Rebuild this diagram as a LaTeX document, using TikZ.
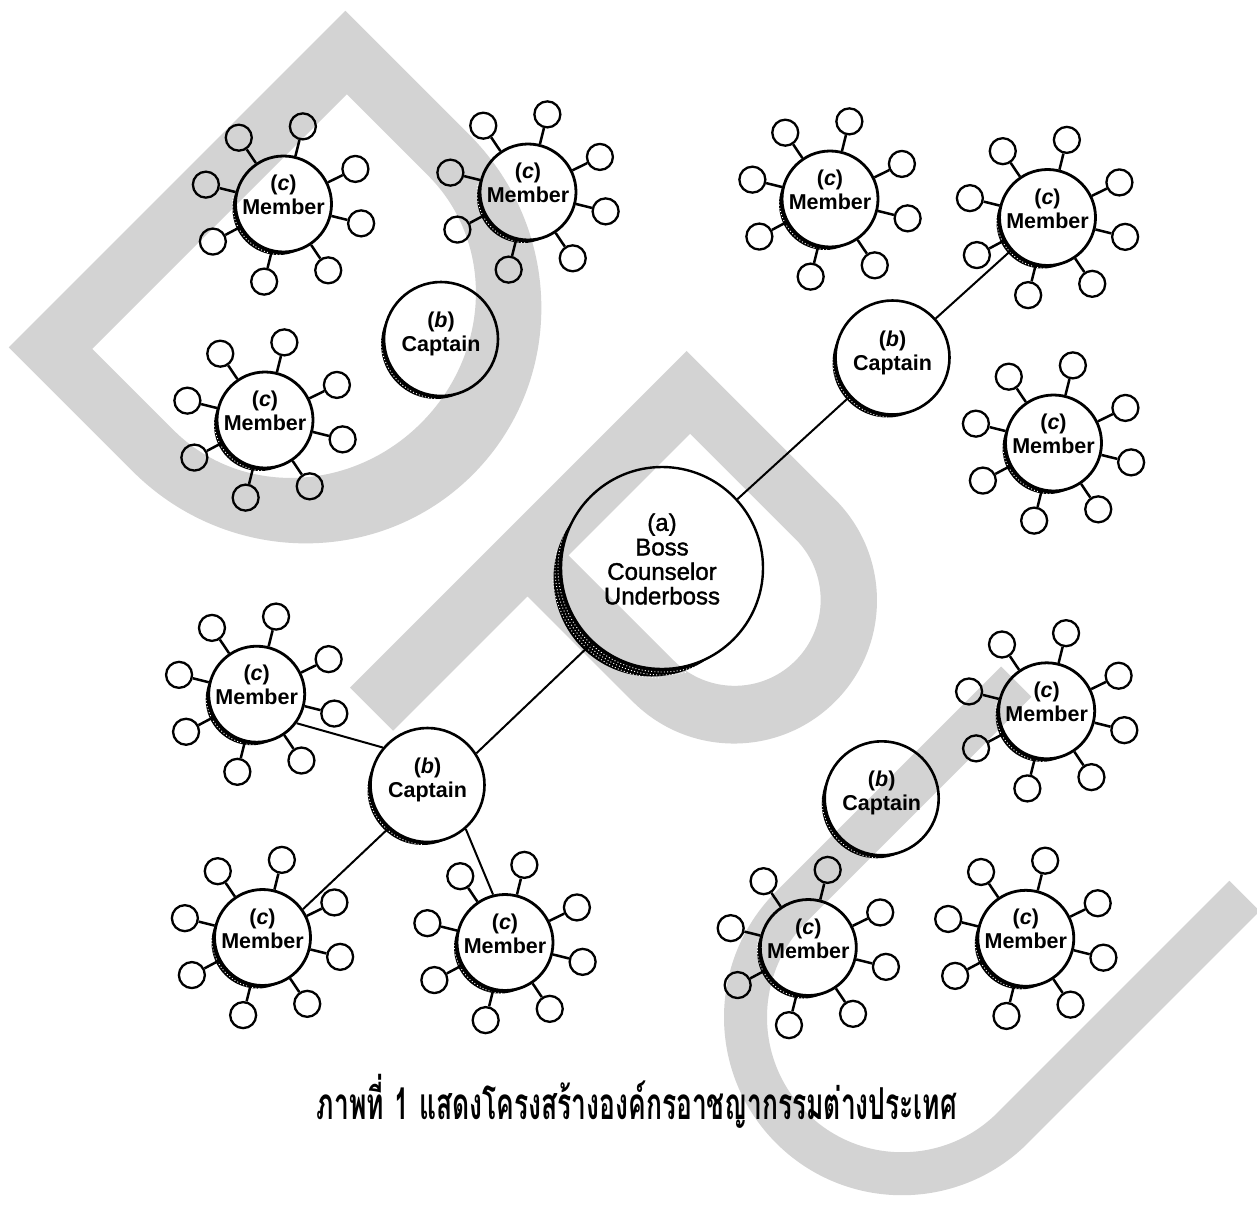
\documentclass[tikz,border=0pt]{standalone}
\usepackage{fontspec}
\setmainfont{Liberation Sans}
\newfontfamily\lblfont{Liberation Sans}
\newfontfamily\bossfont{Liberation Sans}[FakeBold=1.5]
\newfontfamily\thaifont[Script=Thai]{Loma}
\usetikzlibrary{calc}
\definecolor{wmgray}{RGB}{211,211,211}
\tikzset{
  member/.style={circle, draw, line width=2.8pt, minimum size=96pt, inner sep=0pt},
  captain/.style={circle, draw, line width=2.6pt, minimum size=114pt, inner sep=0pt},
  boss/.style={circle, draw, line width=2.4pt, minimum size=202pt, inner sep=0pt},
  sat/.style={circle, draw, line width=2.3pt, minimum size=26pt, inner sep=0pt},
  spoke/.style={line width=2.5pt},
  link/.style={line width=2pt},
  lbl/.style={align=center, inner sep=0pt, font=\lblfont\bfseries\fontsize{21.5pt}{24pt}\selectfont},
  bosslbl/.style={align=center, inner sep=0pt, font=\bossfont\fontsize{24pt}{24.5pt}\selectfont},
  speckle/.style={white, line width=0.9pt, dash pattern=on 1pt off 2.2pt},
  wmark/.style={fill=wmgray, even odd rule},
  letterframe/.style={x={(0.7071pt,-0.7071pt)}, y={(0.7071pt,0.7071pt)}}
}
% dark crescent on the lower left of a circle: node, circle radius, crescent radius, offset
\newcommand\castshadow[4]{%
  \begin{scope}[even odd rule]
    \clip (-50,-50) rectangle (1350,1300) (#1.center) circle[radius=#2];
    \fill ([shift={(-#4,-#4)}]#1.center) circle[radius=#3];
  \end{scope}}
\begin{document}
\begin{tikzpicture}[x=1pt, y=-1pt]
\useasboundingbox (0,0) rectangle (1257,1204);
\fill[white] (0,0) rectangle (1257,1204);

% ---- grey letters D, P, U laid diagonally behind the chart ----
\begin{scope}[shift={(8.8pt,-347.4pt)}, letterframe]
  \fill[wmark] (0,0) -- (0,476) -- (175,476)
      arc[start angle=90, end angle=-90, x radius=243, y radius=238] -- cycle
    (60,58) -- (60,418) -- (175,418)
      arc[start angle=90, end angle=-90, x radius=170, y radius=180] -- cycle;
\end{scope}
\begin{scope}[shift={(350pt,-687.5pt)}, letterframe]
  \fill[wmark] (0,0) -- (0,476) -- (210,476)
      arc[start angle=90, end angle=-90, radius=143]
      -- (61,190) -- (61,0) -- cycle
    (61,248) -- (61,420) -- (210,420)
      arc[start angle=90, end angle=-90, radius=86] -- cycle;
\end{scope}
\begin{scope}[shift={(1001pt,-666.5pt)}, letterframe]
  \fill[wmark] (0,0) -- (0,-318)
      arc[start angle=180, end angle=360, radius=178]
      -- (356,10) -- (313,10) -- (313,-318)
      arc[start angle=0, end angle=-180, radius=135]
      -- (43,0) -- cycle;
\end{scope}

% ---- central circle ----
\coordinate (bossc) at (662,568);
\path (bossc) node[circle, minimum size=202pt, inner sep=0pt] (bossshade) {};
\castshadow{bossshade}{101pt}{98pt}{10.5pt}
\draw[speckle] ([shift={(160:104pt)}]bossc) arc[start angle=160, end angle=292, radius=104pt];
\draw[speckle, dash phase=1.5pt] ([shift={(170:107pt)}]bossc) arc[start angle=170, end angle=285, radius=107pt];
\draw[speckle, dash phase=0.7pt] ([shift={(185:110pt)}]bossc) arc[start angle=185, end angle=270, radius=110pt];
\node[boss] (boss) at (bossc) {};
\node[bosslbl] at ([yshift=9pt]boss.center) {(a)\\Boss\\Counselor\\Underboss};

% ---- captains ----
\foreach \n/\x/\y in {capTL/441/339, capTR/892.5/357.5, capBL/427.5/785, capBR/881.7/798.3}{
  \node[captain] (\n) at (\x,\y) {};
  \castshadow{\n}{57pt}{55pt}{5pt}
  \draw[speckle] ([shift={(175:60pt)}]\n.center) arc[start angle=175, end angle=265, radius=60pt];
  \node[lbl] at ([yshift=5pt]\n.center) {(\textit{b})\\Captain};
}

% ---- members with their eight satellites ----
\foreach \n/\x/\y in {mA/283.5/204, mB/528/192, mC/265/420,
                      mD/830/199, mE/1047.5/217.5, mF/1053.5/443,
                      mG/256.7/694.2, mH/262.5/937.5, mI/505/942.5,
                      mJ/1046.7/710.8, mK/808.3/947.5, mL/1025.8/938.3}{
  \node[member] (\n) at (\x,\y) {};
  \castshadow{\n}{48pt}{46pt}{5pt}
  \draw[speckle] ([shift={(172:51pt)}]\n.center) arc[start angle=172, end angle=268, radius=51pt];
  \node[lbl] at ([yshift=9pt]\n.center) {(\textit{c})\\Member};
  \foreach \a [count=\i] in {124,76,26,-14,-56,-104,-152,166}{
    \node[sat] (\n-s\i) at ([shift={(\a:80pt)}]\n.center) {};
    \draw[spoke] (\n) -- (\n-s\i);
  }
}

% ---- chain of command ----
\draw[link] (boss) -- (capTR);
\draw[link] (capTR) -- (mE);
\draw[link] (boss.-133) -- (capBL.33);
\draw[link] (capBL.140) -- (mG.-36);
\draw[link] (capBL.-132) -- (mH.35);
\draw[link] (capBL.-49) -- (mI.104);

% ---- caption ----
\node (caption) at (637,1101) {\scalebox{0.6}[1]{\thaifont\bfseries\fontsize{44pt}{48pt}\selectfont
  ภาพที่\hspace{0.4em}1\hspace{0.4em}แสดงโครงสร้างองค์กรอาชญากรรมต่างประเทศ}};
\end{tikzpicture}
\end{document}
